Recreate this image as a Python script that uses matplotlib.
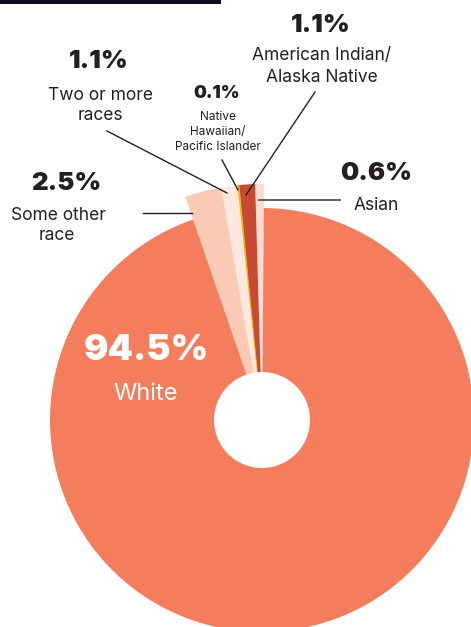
import matplotlib
matplotlib.use("Agg")
import matplotlib.pyplot as plt
from matplotlib.patches import Circle, Rectangle

categories = ["Asian", "American Indian/\nAlaska Native", "Native\nHawaiian/\nPacific Islander",
              "Two or more\nraces", "Some other\nrace", "White"]
values = [0.6, 1.1, 0.1, 1.1, 2.5, 94.5]
pct_labels = ["0.6%", "1.1%", "0.1%", "1.1%", "2.5%", "94.5%"]
colors = ["#FCDCD0", "#C84A35", "#EDB800", "#FDE8DF", "#FBCAB4", "#F37D5D"]

W, H = 471, 627
fig = plt.figure(figsize=(W / 100, H / 100), dpi=100)
ax = fig.add_axes([0, 0, 1, 1])

def Y(y):
    return H - y

cx, cy = 262, Y(420)
wedges, _ = ax.pie(values, colors=colors, startangle=89.5, counterclock=True,
                   center=(cx, cy), radius=236, frame=True,
                   wedgeprops=dict(linewidth=0))
wedges[-1].set_radius(212)
wedges[2].set_edgecolor(colors[2])
wedges[2].set_linewidth(0.7)
ax.set_xlim(0, W)
ax.set_ylim(0, H)
ax.set_aspect("equal")
ax.axis("off")
ax.add_patch(Circle((cx, cy), 48, facecolor="white", edgecolor="none", zorder=5))

# top bar
ax.add_patch(Rectangle((0, Y(4)), 221, 4, facecolor="#0B0B22", edgecolor="none", clip_on=False))

dark = "#231F20"
pfont = dict(family=["Inter", "DejaVu Sans"], fontweight="black", color=dark, ha="center", va="center")
lfont = dict(family=["Inter", "DejaVu Sans"], color=dark, ha="center", va="center")

# White
ax.text(146, Y(351), pct_labels[5], fontsize=26, **{**pfont, "color": "white"}, zorder=6)
ax.text(146, Y(394), "White", fontsize=17, **{**lfont, "color": "white"}, zorder=6)

# Some other race
ax.text(66, Y(184), pct_labels[4], fontsize=18.5, **pfont)
ax.text(58, Y(215), "Some other", fontsize=12.5, **lfont)
ax.text(57, Y(236), "race", fontsize=12.5, **lfont)

# Two or more races
ax.text(99, Y(62), pct_labels[3], fontsize=18.5, **pfont)
ax.text(100, Y(95), "Two or more", fontsize=12.5, **lfont)
ax.text(100, Y(115), "races", fontsize=12.5, **lfont)

# Native Hawaiian
ax.text(217, Y(94), pct_labels[2], fontsize=13, **pfont)
ax.text(218, Y(117), "Native", fontsize=8.5, **lfont)
ax.text(218, Y(132), "Hawaiian/", fontsize=8.5, **lfont)
ax.text(218, Y(147), "Pacific Islander", fontsize=8.5, **lfont)

# American Indian
ax.text(321, Y(25), pct_labels[1], fontsize=18.5, **pfont)
ax.text(322, Y(56), "American Indian/", fontsize=12.5, **lfont)
ax.text(322, Y(77), "Alaska Native", fontsize=12.5, **lfont)

# Asian
ax.text(376, Y(174), pct_labels[0], fontsize=18.5, **pfont)
ax.text(376, Y(206), "Asian", fontsize=12.5, **lfont)

# leader lines
lc = "#222222"
ax.plot([143, 192], [Y(213), Y(213)], color=lc, lw=1.0, zorder=7)
ax.plot([107, 227], [Y(131), Y(193)], color=lc, lw=1.0, zorder=7)
ax.plot([222, 238], [Y(160), Y(190)], color=lc, lw=1.0, zorder=7)
ax.plot([315, 246], [Y(92), Y(195)], color=lc, lw=1.0, zorder=7)
ax.plot([259, 340], [Y(200), Y(200)], color="#555555", lw=1.3, zorder=7)

fig.savefig("out.png", dpi=100)
